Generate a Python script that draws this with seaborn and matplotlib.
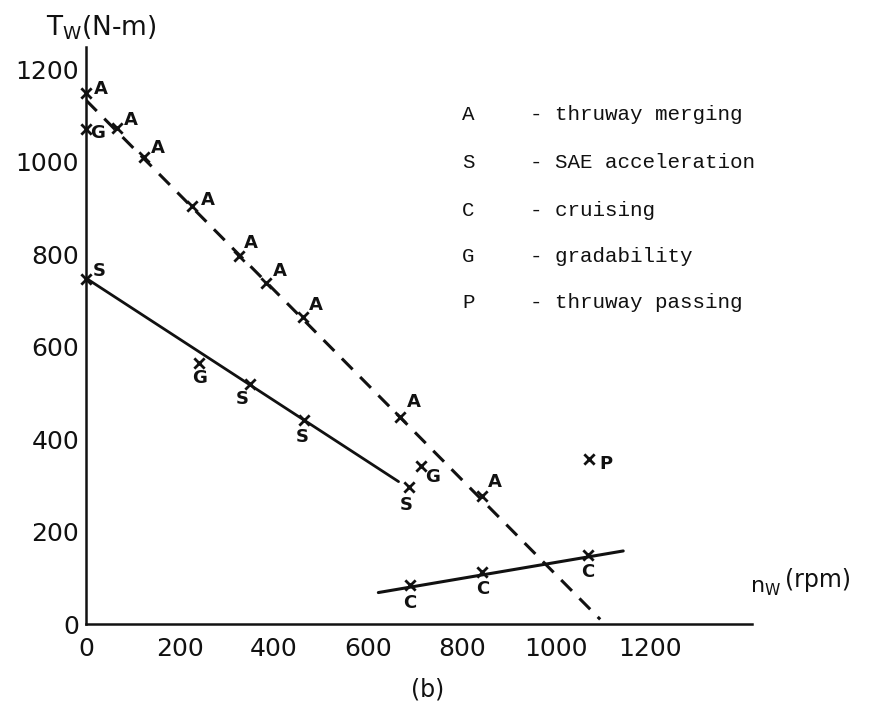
import matplotlib
matplotlib.use("Agg")
import matplotlib.pyplot as plt
import seaborn as sns
import pandas as pd

# ---------------- data ----------------
merge_x = [0, 65, 124, 225, 326, 383, 462, 668, 842]
merge_y = [1149, 1073, 1010, 904, 796, 737, 663, 447, 277]
sae_x = [0, 348, 464, 688]
sae_y = [747, 519, 441, 296]
cruise_x = [690, 842, 1069]
cruise_y = [84, 112, 149]
grade_x = [0, 241, 712]
grade_y = [1070, 564, 342]
pass_x = [1071]
pass_y = [356]

merge_line_x = [0, 1094]
merge_line_y = [1133, 10]
sae_line_x = [0, 665]
sae_line_y = [748, 308]
cruise_line_x = [622, 1143]
cruise_line_y = [68, 158]

x_ticks = [0, 200, 400, 600, 800, 1000, 1200, 1400]
x_tick_labels = ["0", "200", "400", "600", "800", "1000", "1200", ""]
y_ticks = [0, 200, 400, 600, 800, 1000, 1200]
y_tick_labels = ["0", "200", "400", "600", "800", "1000", "1200"]

legend_codes = ["A", "S", "C", "G", "P"]
legend_names = ["thruway merging", "SAE acceleration", "cruising",
                "gradability", "thruway passing"]

# label offsets (pixels) for each point's letter
merge_off = [(15, 4), (14, 8), (14, 9), (16, 6), (12, 13), (14, 12), (13, 12), (14, 15), (13, 14)]
sae_off = [(13, 8), (-7, -15), (-2, -17), (-3, -18)]
cruise_off = [(-1, -18), (1, -17), (-1, -17)]
grade_off = [(12, -4), (0, -15), (12, -11)]
pass_off = [(17, -5)]

# ---------------- figure ----------------
sns.set_style("white")
plt.rcParams["font.family"] = ["DejaVu Sans"]

W, H = 873, 707
fig = plt.figure(figsize=(W / 100, H / 100), dpi=100)
ax = fig.add_axes([86 / W, (H - 624) / H, 666 / W, 577 / H])

ink = "#111111"

# lines
sns.lineplot(x=merge_line_x, y=merge_line_y, ax=ax, color=ink, lw=2.2,
             linestyle=(0, (5, 3.5)), dash_capstyle="butt")
sns.lineplot(x=sae_line_x, y=sae_line_y, ax=ax, color=ink, lw=2.0)
sns.lineplot(x=cruise_line_x, y=cruise_line_y, ax=ax, color=ink, lw=2.2)

# points
groups = [
    (merge_x, merge_y, "A", merge_off),
    (sae_x, sae_y, "S", sae_off),
    (cruise_x, cruise_y, "C", cruise_off),
    (grade_x, grade_y, "G", grade_off),
    (pass_x, pass_y, "P", pass_off),
]
for gx, gy, code, offs in groups:
    df = pd.DataFrame({"x": gx, "y": gy})
    sns.scatterplot(data=df, x="x", y="y", ax=ax, marker="x", s=55,
                    color=ink, linewidth=2.0, zorder=5, clip_on=False)
    for xv, yv, (dx, dy) in zip(gx, gy, offs):
        ax.annotate(code, (xv, yv), xytext=(dx, dy), textcoords="offset pixels",
                    ha="center", va="center", fontsize=13, fontweight="bold",
                    color=ink)
for coll in ax.collections:
    coll.set_clip_on(False)

# axes styling
ax.set_xlim(0, 1417)
ax.set_ylim(0, 1248)
ax.set_xticks(x_ticks)
ax.set_xticklabels(x_tick_labels)
ax.set_yticks(y_ticks)
ax.set_yticklabels(y_tick_labels)
ax.tick_params(axis="both", direction="in", length=9, width=1.5, color=ink,
               labelsize=18, labelcolor=ink)
ax.tick_params(axis="x", pad=9)
ax.tick_params(axis="y", pad=5)
for side in ["top", "right"]:
    ax.spines[side].set_visible(False)
for side in ["left", "bottom"]:
    ax.spines[side].set_linewidth(1.8)
    ax.spines[side].set_color(ink)
ax.set_xlabel("")
ax.set_ylabel("")
ax.set_facecolor("white")


def px(x, y):
    return x / W, 1 - y / H


# axis titles
fig.text(*px(46, 28), r"T$_{\mathsf{W}}$(N-m)", fontsize=19, ha="left", va="center", color=ink)
fig.text(*px(750, 588), r"n$_{\mathsf{W}}$", fontsize=16, ha="left", va="center", color=ink)
fig.text(*px(785, 580), "(rpm)", fontsize=17, ha="left", va="center", color=ink)
fig.text(*px(428, 690), "(b)", fontsize=17, ha="center", va="center", color=ink)

# legend as text block
leg_y = [115, 162, 210, 257, 303]
for code, name, yy in zip(legend_codes, legend_names, leg_y):
    fig.text(*px(462, yy), code, fontsize=15, family="Liberation Mono",
             ha="left", va="center", color=ink)
    fig.text(*px(530, yy), "- " + name, fontsize=15, family="Liberation Mono",
             ha="left", va="center", color=ink)

fig.savefig("out.png", dpi=100, facecolor="white")
